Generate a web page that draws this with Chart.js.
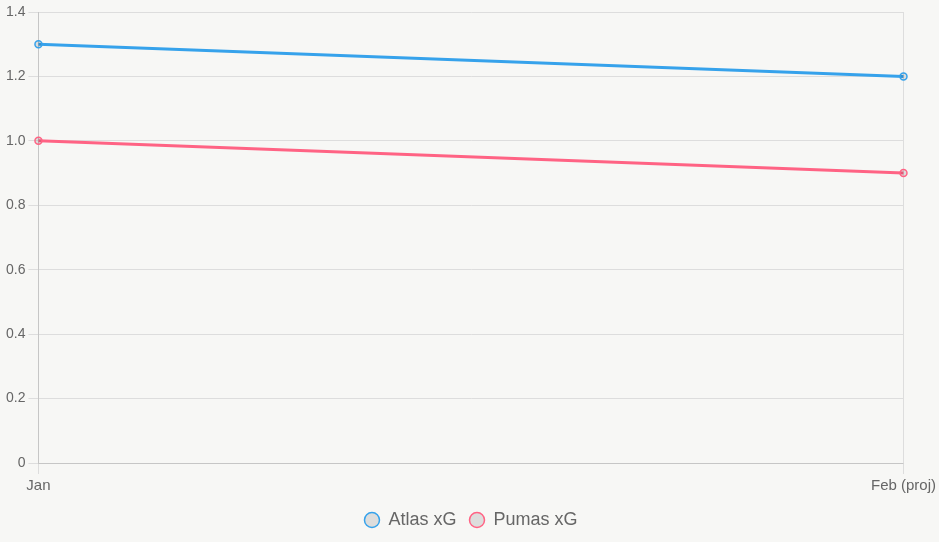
<!DOCTYPE html>
<html>
<head>
<meta charset="utf-8">
<script src="https://cdn.jsdelivr.net/npm/chart.js@4"></script>
<style>
    html, body { margin: 0; padding: 0; background: #f7f7f5; }
    #wrap { width: 939px; height: 542px; }
</style>
</head>
<body>
<div id="wrap"><canvas id="xgChart"></canvas></div>
<script>
const months = ['Jan', 'Feb (proj)'];
const atlasXg = [1.3, 1.2];
const pumasXg = [1.0, 0.9];

const ctx = document.getElementById('xgChart').getContext('2d');
const xgChart = new Chart(ctx, {
    type: 'line',
    data: {
        labels: months,
        datasets: [{
            label: 'Atlas xG',
            data: atlasXg,
            borderColor: '#36a2eb',
            backgroundColor: 'rgba(0,0,0,0.1)',
            borderWidth: 3,
            pointRadius: 3.5,
            pointBorderWidth: 1.5
        }, {
            label: 'Pumas xG',
            data: pumasXg,
            borderColor: '#ff6384',
            backgroundColor: 'rgba(0,0,0,0.1)',
            borderWidth: 3,
            pointRadius: 3.5,
            pointBorderWidth: 1.5
        }]
    },
    options: {
        responsive: true,
        maintainAspectRatio: false,
        animation: false,
        layout: { padding: { top: 12, left: 3, bottom: 3 } },
        scales: {
            x: {
                ticks: { color: '#666', font: { size: 15 }, padding: 3 },
                grid: { color: '#ddd', tickLength: 11 }
            },
            y: {
                min: 0,
                max: 1.4,
                ticks: { stepSize: 0.2, color: '#666', font: { size: 14 }, padding: 3 },
                grid: { color: '#ddd', tickLength: 10 }
            }
        },
        plugins: {
            legend: {
                position: 'bottom',
                labels: {
                    usePointStyle: true,
                    boxWidth: 15,
                    boxHeight: 10.6,
                    padding: 13,
                    color: '#666',
                    font: { size: 18 }
                }
            }
        }
    }
});
</script>
</body>
</html>
